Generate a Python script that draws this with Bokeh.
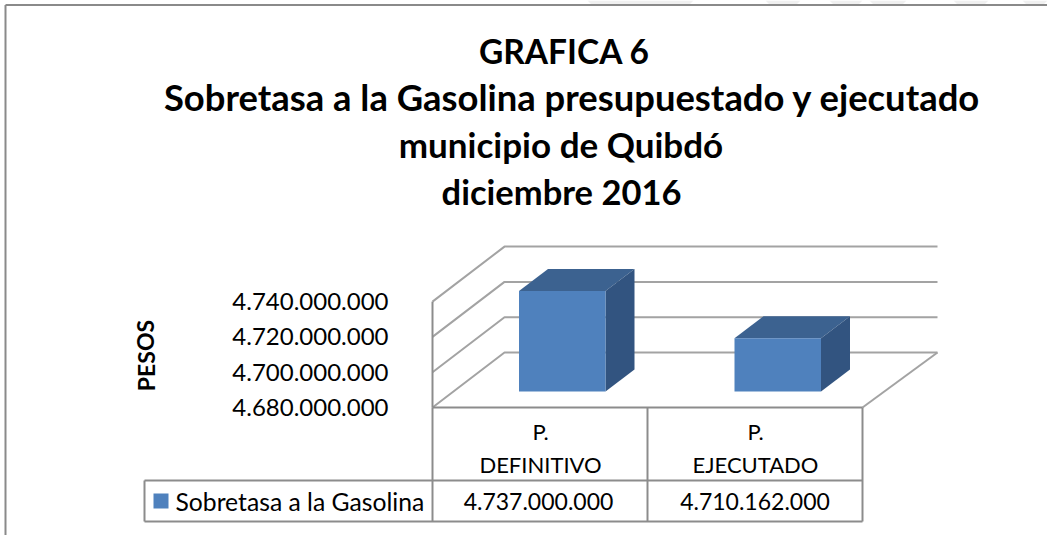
from bokeh.plotting import figure
from bokeh.models import Range1d
from bokeh.core.properties import value
from bokeh.embed import file_html
from bokeh.resources import INLINE

# ---- data ----
title_lines = ["GRAFICA 6", "Sobretasa a la Gasolina presupuestado y ejecutado", "municipio de Quibdó", "diciembre 2016"]
categories = [["P.", "DEFINITIVO"], ["P.", "EJECUTADO"]]
series_name = "Sobretasa a la Gasolina"
values = [4737000000, 4710162000]
value_labels = ["4.737.000.000", "4.710.162.000"]
ticks = [4680000000, 4700000000, 4720000000, 4740000000]
tick_labels = ["4.680.000.000", "4.700.000.000", "4.720.000.000", "4.740.000.000"]
y_title = "PESOS"

# ---- scale ----
W, H = 1047, 535
FLOOR_PX = 407.0
PX_PER_STEP = 35.3
STEP = ticks[1] - ticks[0]
PESOS_PER_PX = STEP / PX_PER_STEP
ymin = ticks[0] - (H - FLOOR_PX) * PESOS_PER_PX
ymax = ticks[0] + FLOOR_PX * PESOS_PER_PX

FONT = value("Lato")
AXIS = "#8c8c8c"
GRID = "#a3a3a3"
FRONT, TOP, SIDE = "#4f81bd", "#3c6290", "#325480"
INK = "#000000"

p = figure(width=W, height=H, x_range=Range1d(0, W), y_range=Range1d(ymin, ymax),
           output_backend="svg", toolbar_location=None, min_border=0,
           background_fill_color="#ffffff", border_fill_color="#ffffff")
p.axis.visible = False
p.grid.visible = False
p.outline_line_color = None
p.extra_y_ranges["px"] = Range1d(H, 0)


def pl(xs, ys, color=AXIS, w=2):
    p.line(xs, ys, y_range_name="px", line_color=color, line_width=w)


def txt(x, y, s, size, bold=False, align="center", angle=0):
    p.text([x], [y], text=[s], y_range_name="px", text_font=FONT, text_font_size=size,
           text_align=align, text_baseline="middle", text_color=INK,
           text_font_style="bold" if bold else "normal", angle=angle)


# faint strip above the frame
for a, b in [(587, 693), (765, 800), (829, 862), (869, 906), (953, 988), (1022, 1047)]:
    p.patch([a, b, b - 4, a + 4], [0, 0, 4, 4], y_range_name="px", fill_color="#f0f0f0", line_color=None)

# outer frame
pl([5, 5], [535, 4.5], "#8a8a8a", 2)
pl([5, 1047], [4.5, 4.5], "#8a8a8a", 2)

# 3D box dimensions
DX, DY = 72.0, 55.0
X0, X1 = 432.0, 862.0
to_py = lambda v: FLOOR_PX - (v - ticks[0]) / PESOS_PER_PX

# walls and floor
for t in ticks:
    y = to_py(t)
    pl([X0, X0 + DX, 937], [y, y - DY, y - DY], GRID, 2)
pl([X0, X0], [to_py(ticks[-1]), FLOOR_PX], AXIS, 2)
pl([X1, 937], [FLOOR_PX, FLOOR_PX - DY], GRID, 2)

# bars
BAR_W, BAR_DX, BAR_DY = 86.5, 29.0, 22.0
BASE_OFF = 16.0
base_val = ticks[0] + BASE_OFF * PESOS_PER_PX
off_val = BAR_DY * PESOS_PER_PX
bar_left = [518.5, 734.0]
for xl, v in zip(bar_left, values):
    top_val = base_val + (v - ticks[0])
    xr = xl + BAR_W
    p.patch([xl, xr, xr + BAR_DX, xl + BAR_DX], [top_val, top_val, top_val + off_val, top_val + off_val],
            fill_color=TOP, line_color=None)
    p.patch([xr, xr + BAR_DX, xr + BAR_DX, xr], [base_val, base_val + off_val, top_val + off_val, top_val],
            fill_color=SIDE, line_color=None)
    p.patch([xl, xr, xr, xl], [base_val, base_val, top_val, top_val], fill_color=FRONT, line_color=None)

# data table
pl([X0, X1], [407, 407], AXIS, 2)
pl([144, X1], [480, 480], AXIS, 2)
pl([144, X1], [521, 521], AXIS, 2)
pl([144, 144], [480, 521], AXIS, 2)
pl([X0, X0], [407, 521], AXIS, 2)
pl([647, 647], [407, 521], AXIS, 2)
pl([X1, X1], [407, 521], AXIS, 2)

for cx, cv, cat, lab in zip([540, 755], [538, 754.5], categories, value_labels):
    txt(cx, 431, cat[0], "22px")
    txt(cx, 464, cat[1], "22px")
    txt(cv, 501, lab, "23px")

# legend
p.patch([153, 168, 168, 153], [493, 493, 508, 508], y_range_name="px", fill_color=FRONT, line_color=None)
txt(175, 501, series_name, "24.7px", align="left")

# y tick labels
for t, lab in zip(ticks, tick_labels):
    p.text([388], [t], text=[lab], text_font=FONT, text_font_size="24px", text_align="right",
           text_baseline="middle", text_color=INK)

txt(145, 355, y_title, "23px", bold=True, angle=1.5708)

# title
for x, y, s, size in zip([564, 572, 560.5, 561], [50, 96, 143, 191], title_lines,
                         ["33.5px", "36.4px", "35px", "34.5px"]):
    txt(x, y, s, size, bold=True)

open("out.html", "w").write(file_html(p, INLINE))
